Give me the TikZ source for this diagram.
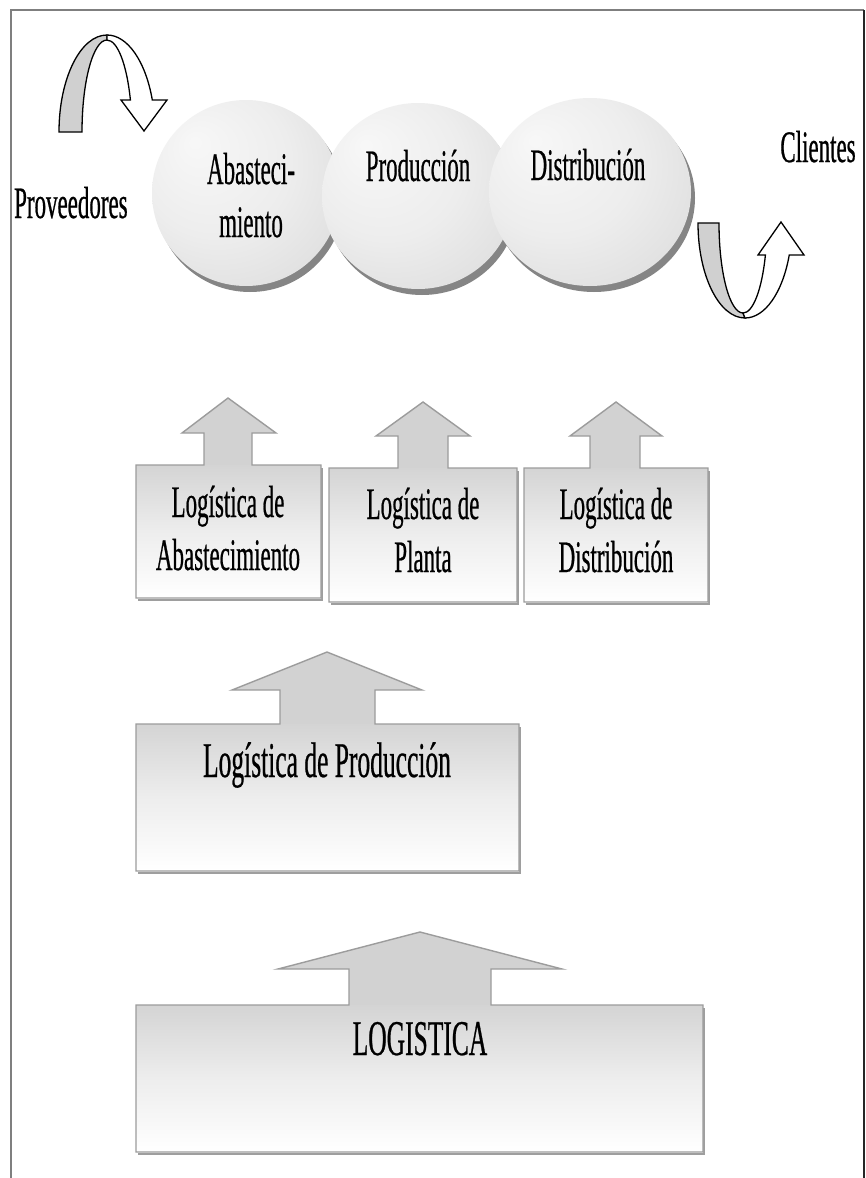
\documentclass[tikz,border=0pt]{standalone}
\usepackage{fontspec}
\setmainfont{Liberation Serif}[FakeStretch=0.51, FakeBold=0.5]
\definecolor{framegray}{HTML}{7F7F7F}
\definecolor{edgegray}{HTML}{9C9C9C}
\definecolor{arrowgray}{HTML}{D2D2D2}
\definecolor{boxtop}{HTML}{D4D4D4}
\definecolor{bandgray}{HTML}{D0D0D0}
\pgfdeclareradialshading{disc}{\pgfpoint{-14bp}{14bp}}{color(0bp)=(black!3); color(20bp)=(black!7); color(36bp)=(black!13); color(50bp)=(black!24)}
\begin{document}
\begin{tikzpicture}[x=1pt, y=-1pt,
  txt/.style={inner sep=0pt, font=\fontsize{45}{53}\selectfont, align=center},
  bigtxt/.style={inner sep=0pt, font=\fontsize{50}{55}\selectfont},
  discshadow/.style={fill=black!48},
  disc/.style={shading=disc},
  band/.style={fill=bandgray, draw=black, line width=1.3pt},
  bandhead/.style={fill=white, draw=black, line width=1.3pt},
  boxshadow/.style={fill=black!38},
  boxfill/.style={top color=boxtop, bottom color=white, middle color=black!7},
  stemfill/.style={fill=arrowgray},
  outline/.style={draw=edgegray, line width=1.4pt}]
\useasboundingbox (0,0) rectangle (866,1178);
\fill[white] (0,0) rectangle (866,1178);

% frame
\draw[framegray, line width=2pt] (11,1178) -- (11,10) -- (864,10);
\draw[black!85, line width=2pt] (864,10) -- (864,1178);

% process discs
\fill[discshadow] (250,199) ellipse [x radius=94, y radius=93];
\shade[disc] (246,193) ellipse [x radius=94, y radius=93];
\fill[discshadow] (422,202) ellipse [x radius=96, y radius=93];
\shade[disc] (418,196) ellipse [x radius=96, y radius=93];
\fill[discshadow] (594,198) ellipse [x radius=101, y radius=94];
\shade[disc] (590,192) ellipse [x radius=101, y radius=94];

\node[txt, anchor=base] (abas) at (251,237) {Abasteci-\\miento};
\node[txt, anchor=base] (prod) at (418,181) {Producción};
\node[txt, anchor=base] (dist) at (588,180) {Distribución};
\node[txt, anchor=base west] (prov) at (14,218) {Proveedores};
\node[txt, anchor=base] (cli) at (818,162) {Clientes};

% curved arrow in (suppliers)
\filldraw[band] (59,132) arc[start angle=180, end angle=270, x radius=48, y radius=97]
  -- (107,40) arc[start angle=270, end angle=180, x radius=25, y radius=92] -- cycle;
\filldraw[bandhead] (107,35) arc[start angle=270, end angle=340.7, x radius=48, y radius=97]
  -- (167,100) -- (144,131) -- (121,100) -- (130.4,100)
  arc[start angle=339.6, end angle=270, x radius=25, y radius=92] -- cycle;

% curved arrow out (customers)
\filldraw[band] (698,223) arc[start angle=180, end angle=90, x radius=47, y radius=95]
  -- (743,313) arc[start angle=90, end angle=180, x radius=24, y radius=90] -- cycle;
\filldraw[bandhead] (745,318) arc[start angle=90, end angle=19.7, x radius=47, y radius=95]
  -- (804,255) -- (781,222) -- (758,255) -- (765.4,255)
  arc[start angle=20.8, end angle=90, x radius=24, y radius=90] -- cycle;

% row 1: three logistics blocks
\fill[boxshadow] (138,468) rectangle (323,601);
\fill[stemfill] (204,466) -- (204,433) -- (182,433) -- (228,398) -- (276,433) -- (252,433) -- (252,466) -- cycle;
\shade[boxfill] (136,465) rectangle (321,598);
\draw[outline] (136,598) -- (136,465) -- (204,465) -- (204,433) -- (182,433) -- (228,398)
  -- (276,433) -- (252,433) -- (252,465) -- (321,465) -- (321,598) -- cycle;
\node[txt, anchor=base] (labas) at (228,570) {Logística de\\Abastecimiento};

\fill[boxshadow] (331,471) rectangle (519,605);
\fill[stemfill] (398,469) -- (398,436) -- (376,436) -- (423,402) -- (470,436) -- (448,436) -- (448,469) -- cycle;
\shade[boxfill] (329,468) rectangle (517,602);
\draw[outline] (329,602) -- (329,468) -- (398,468) -- (398,436) -- (376,436) -- (423,402)
  -- (470,436) -- (448,436) -- (448,468) -- (517,468) -- (517,602) -- cycle;
\node[txt, anchor=base] (lplan) at (423,572) {Logística de\\Planta};

\fill[boxshadow] (526,471) rectangle (710,605);
\fill[stemfill] (590,469) -- (590,436) -- (570,436) -- (616,402) -- (662,436) -- (640,436) -- (640,469) -- cycle;
\shade[boxfill] (524,468) rectangle (708,602);
\draw[outline] (524,602) -- (524,468) -- (590,468) -- (590,436) -- (570,436) -- (616,402)
  -- (662,436) -- (640,436) -- (640,468) -- (708,468) -- (708,602) -- cycle;
\node[txt, anchor=base] (ldist) at (616,572) {Logística de\\Distribución};

% row 2: production logistics
\fill[boxshadow] (138,727) rectangle (521,874);
\fill[stemfill] (280,726) -- (280,690) -- (232,690) -- (327,652) -- (422,690) -- (375,690) -- (375,726) -- cycle;
\shade[boxfill] (136,724) rectangle (519,871);
\draw[outline] (136,871) -- (136,724) -- (280,724) -- (280,690) -- (232,690) -- (327,652)
  -- (422,690) -- (375,690) -- (375,724) -- (519,724) -- (519,871) -- cycle;
\node[bigtxt, anchor=base] (lprod) at (327,777) {Logística de Producción};

% row 3: logistics
\fill[boxshadow] (138,1008) rectangle (705,1155);
\fill[stemfill] (349,1007) -- (349,969) -- (278,969) -- (420,932) -- (562,969) -- (491,969) -- (491,1007) -- cycle;
\shade[boxfill] (136,1005) rectangle (703,1152);
\draw[outline] (136,1152) -- (136,1005) -- (349,1005) -- (349,969) -- (278,969) -- (420,932)
  -- (562,969) -- (491,969) -- (491,1005) -- (703,1005) -- (703,1152) -- cycle;
\node[bigtxt, anchor=base] (llog) at (420,1055) {LOGISTICA};
\end{tikzpicture}
\end{document}
